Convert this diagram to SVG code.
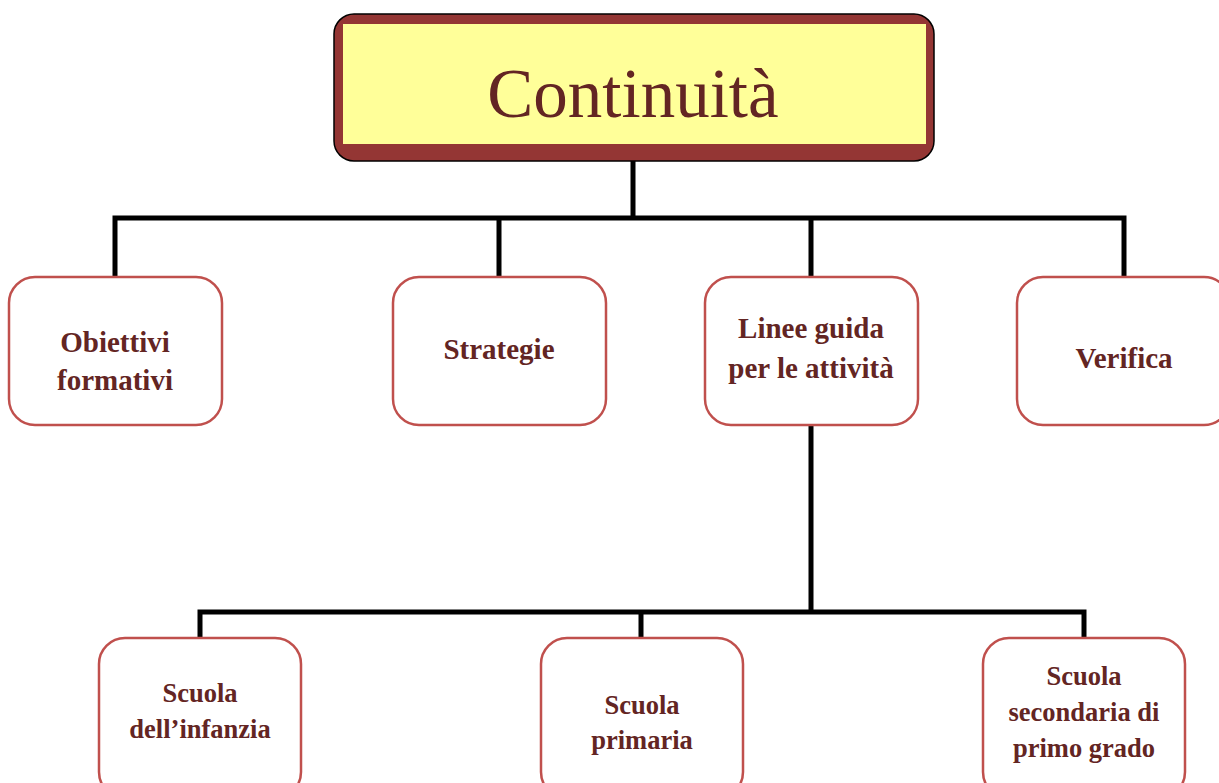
<svg xmlns="http://www.w3.org/2000/svg" width="1219" height="783" viewBox="0 0 1219 783">
<style>
.node rect{fill:#fff;stroke:#C0504D;stroke-width:2.5}
.lbl{font-family:"Liberation Serif","Times New Roman",serif;font-weight:bold;fill:#632523;text-anchor:middle}
.t1{font-size:29px}
.t2{font-size:26.5px}
.conn{fill:none;stroke:#000;stroke-width:5;stroke-linejoin:miter;stroke-linecap:butt}
</style>
<rect width="1219" height="783" fill="#fff"/>
<g id="connectors">
<path class="conn" d="M633,161 V218 M115,276 V218 H1124 V276 M499,218 V276 M811,218 V276"/>
<path class="conn" d="M811,425 V612 M200,638 V612 H1084 V638 M641,612 V638"/>
</g>
<g id="title">
<rect x="334" y="14" width="600" height="147" rx="20" fill="#943634" stroke="#000" stroke-width="1.5"/>
<rect x="343" y="24" width="583" height="120" fill="#FFFF99"/>
<text x="633" y="117" font-family="'Liberation Serif','Times New Roman',serif" font-size="69" fill="#632523" text-anchor="middle">Continuità</text>
</g>
<g id="n-obiettivi" class="node">
<rect x="9" y="277" width="213" height="148" rx="26"/>
<text class="lbl t1" x="115" y="352">Obiettivi</text>
<text class="lbl t1" x="115" y="390">formativi</text>
</g>
<g id="n-strategie" class="node">
<rect x="393" y="277" width="213" height="148" rx="26"/>
<text class="lbl t1" x="499" y="359">Strategie</text>
</g>
<g id="n-linee" class="node">
<rect x="705" y="277" width="213" height="148" rx="26"/>
<text class="lbl t1" x="811" y="338">Linee guida</text>
<text class="lbl t1" x="811" y="378">per le attività</text>
</g>
<g id="n-verifica" class="node">
<rect x="1017" y="277" width="213" height="148" rx="26"/>
<text class="lbl t1" x="1124" y="368">Verifica</text>
</g>
<g id="n-infanzia" class="node">
<rect x="99" y="638" width="202" height="160" rx="26"/>
<text class="lbl t2" x="200" y="702">Scuola</text>
<text class="lbl t2" x="200" y="738">dell’infanzia</text>
</g>
<g id="n-primaria" class="node">
<rect x="541" y="638" width="202" height="160" rx="26"/>
<text class="lbl t2" x="642" y="714">Scuola</text>
<text class="lbl t2" x="642" y="749">primaria</text>
</g>
<g id="n-secondaria" class="node">
<rect x="983" y="638" width="202" height="160" rx="26"/>
<text class="lbl t2" x="1084" y="685">Scuola</text>
<text class="lbl t2" x="1084" y="721">secondaria di</text>
<text class="lbl t2" x="1084" y="757">primo grado</text>
</g>
</svg>
